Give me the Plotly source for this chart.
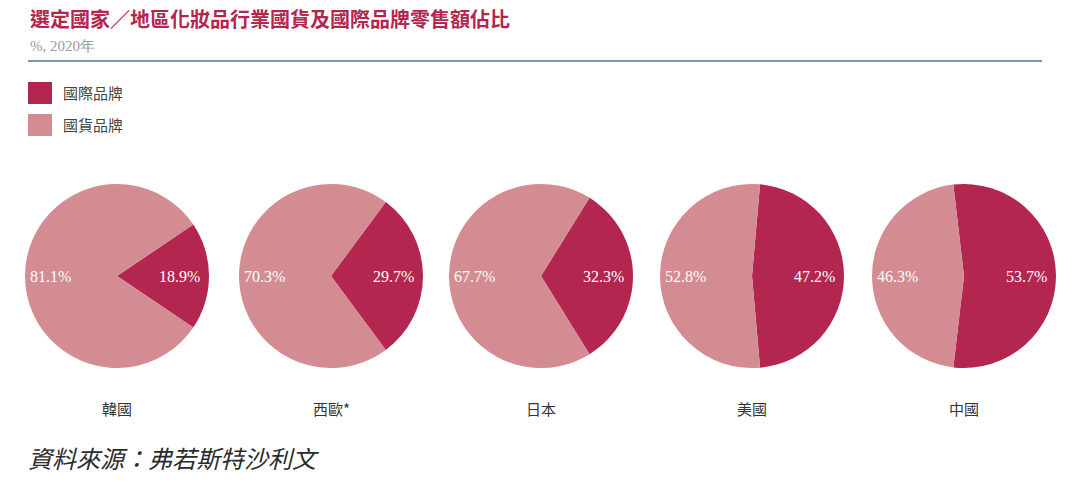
import plotly.graph_objects as go

# Data
regions = ["韓國", "西歐*", "日本", "美國", "中國"]
international = [18.9, 29.7, 32.3, 47.2, 53.7]
domestic = [81.1, 70.3, 67.7, 52.8, 46.3]
series_names = ["國際品牌", "國貨品牌"]

title_text = "選定國家／地區化妝品行業國貨及國際品牌零售額佔比"
subtitle_text = "%, 2020年"
source_text = "資料來源：弗若斯特沙利文"

DARK = "#b3264f"
LIGHT = "#d38c91"
W, H = 1080, 482

fig = go.Figure()

centers_px = [117, 331, 541, 752, 964]
cy_px = 276
r_px = 92

annotations = []
shapes = []
for i, reg in enumerate(regions):
    cx = centers_px[i]
    x0 = (cx - r_px) / W
    x1 = (cx + r_px) / W
    y0 = 1 - (cy_px + r_px) / H
    y1 = 1 - (cy_px - r_px) / H
    p = international[i]
    fig.add_trace(go.Pie(
        labels=series_names,
        values=[international[i], domestic[i]],
        sort=False,
        direction="clockwise",
        rotation=90 - p * 1.8,
        marker=dict(colors=[DARK, LIGHT], line=dict(width=0)),
        textinfo="none",
        hoverinfo="label+value",
        domain=dict(x=[x0, x1], y=[y0, y1]),
        showlegend=False,
    ))
    # value labels
    annotations.append(dict(
        x=(cx - 0.72 * r_px) / W, y=1 - cy_px / H, xref="paper", yref="paper",
        text=f"{domestic[i]}%", showarrow=False, xanchor="center", yanchor="middle",
        font=dict(family="Liberation Serif", size=16, color="white")))
    annotations.append(dict(
        x=(cx + 0.68 * r_px) / W, y=1 - cy_px / H, xref="paper", yref="paper",
        text=f"{international[i]}%", showarrow=False, xanchor="center", yanchor="middle",
        font=dict(family="Liberation Serif", size=16, color="white")))
    # region labels
    annotations.append(dict(
        x=cx / W, y=1 - 408 / H, xref="paper", yref="paper",
        text=reg, showarrow=False, xanchor="center", yanchor="middle",
        font=dict(family="Noto Sans CJK TC", size=15, color="#333333")))

# Title, subtitle, source
annotations.append(dict(x=28 / W, y=1 - 19 / H, xref="paper", yref="paper", text=f"<b>{title_text}</b>",
                        showarrow=False, xanchor="left", yanchor="middle",
                        font=dict(family="Noto Sans CJK TC", size=20, color="#b3264f")))
annotations.append(dict(x=28 / W, y=1 - 46 / H, xref="paper", yref="paper", text=subtitle_text,
                        showarrow=False, xanchor="left", yanchor="middle",
                        font=dict(family="Liberation Serif", size=15, color="#9a9a9a")))
annotations.append(dict(x=26 / W, y=1 - 457 / H, xref="paper", yref="paper", text=f"<i>{source_text}</i>",
                        showarrow=False, xanchor="left", yanchor="middle",
                        font=dict(family="Noto Sans CJK TC", size=24, color="#2b2b2b")))

# Divider line
shapes.append(dict(type="line", xref="paper", yref="paper", x0=28 / W, x1=1042 / W,
                   y0=1 - 61 / H, y1=1 - 61 / H, line=dict(color="#7f95b8", width=2)))

# Legend
leg_colors = [DARK, LIGHT]
leg_y = [93, 125]
for name, col, ly in zip(series_names, leg_colors, leg_y):
    shapes.append(dict(type="rect", xref="paper", yref="paper",
                       x0=28 / W, x1=52 / W, y0=1 - (ly + 11) / H, y1=1 - (ly - 11) / H,
                       fillcolor=col, line=dict(width=0)))
    annotations.append(dict(x=61 / W, y=1 - ly / H, xref="paper", yref="paper", text=name,
                            showarrow=False, xanchor="left", yanchor="middle",
                            font=dict(family="Noto Sans CJK TC", size=15, color="#444444")))

fig.update_layout(
    width=W, height=H,
    margin=dict(l=0, r=0, t=0, b=0),
    paper_bgcolor="white", plot_bgcolor="white",
    annotations=annotations, shapes=shapes,
)

fig.write_html("out.html", config={"displayModeBar": False},
               post_script="document.body.style.margin='0';document.body.style.overflow='hidden';")
